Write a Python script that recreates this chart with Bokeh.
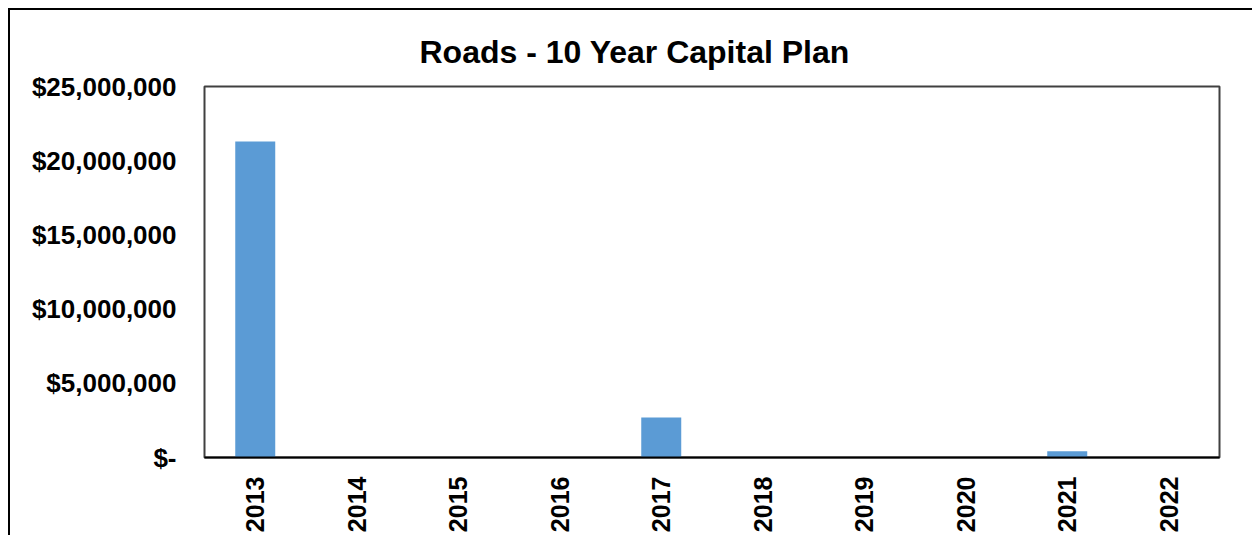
from bokeh.plotting import figure
from bokeh.models import ColumnDataSource, FixedTicker, NumeralTickFormatter
from bokeh.embed import file_html
from bokeh.resources import INLINE
import math

years = ["2013", "2014", "2015", "2016", "2017", "2018", "2019", "2020", "2021", "2022"]
spend = [21300000, 0, 0, 0, 2700000, 0, 0, 0, 420000, 0]
y_ticks = [0, 5000000, 10000000, 15000000, 20000000, 25000000]
y_tick_labels = ["$-", "$5,000,000", "$10,000,000", "$15,000,000", "$20,000,000", "$25,000,000"]
title_text = "Roads - 10 Year Capital Plan"

FONT = "Liberation Sans"

src = ColumnDataSource(dict(year=years, spend=spend))

p = figure(x_range=years, y_range=(0, 25000000), width=1244, height=527,
           output_backend="svg", toolbar_location=None,
           min_border_left=194, min_border_right=35, min_border_top=76, min_border_bottom=80,
           background_fill_color="white", border_fill_color="white")
p.styles = {"border-top": "2px solid black", "border-left": "2px solid black",
            "margin-left": "8px", "margin-top": "8px"}

p.vbar(x="year", top="spend", width=0.394, source=src, fill_color="#5B9BD5", line_color=None)

p.title.text = title_text
p.title.text_font = FONT
p.title.text_font_size = "32px"
p.title.text_font_style = "bold"
p.title.text_color = "black"
p.title.align = "left"
p.title.offset = 215
p.title.standoff = 33

p.x_range.range_padding = 0
p.xgrid.visible = False
p.ygrid.visible = False

p.outline_line_color = "#404040"
p.outline_line_width = 2

ya = p.yaxis[0]
ya.ticker = FixedTicker(ticks=y_ticks)
ya.formatter = NumeralTickFormatter(format="$0,0")
ya.major_label_overrides = {t: l for t, l in zip(y_ticks, y_tick_labels)}
ya.major_tick_line_color = None
ya.minor_tick_line_color = None
ya.axis_line_color = None
ya.major_label_standoff = 22
ya.major_label_text_font = FONT
ya.major_label_text_font_size = "26px"
ya.major_label_text_font_style = "bold"
ya.major_label_text_color = "black"

xa = p.xaxis[0]
xa.major_tick_line_color = None
xa.minor_tick_line_color = None
xa.axis_line_color = "black"
xa.axis_line_width = 2
xa.major_label_orientation = math.pi / 2
xa.major_label_standoff = 13
xa.major_label_text_font = FONT
xa.major_label_text_font_size = "25px"
xa.major_label_text_font_style = "bold"
xa.major_label_text_color = "black"

open("out.html", "w").write(file_html(p, INLINE))
